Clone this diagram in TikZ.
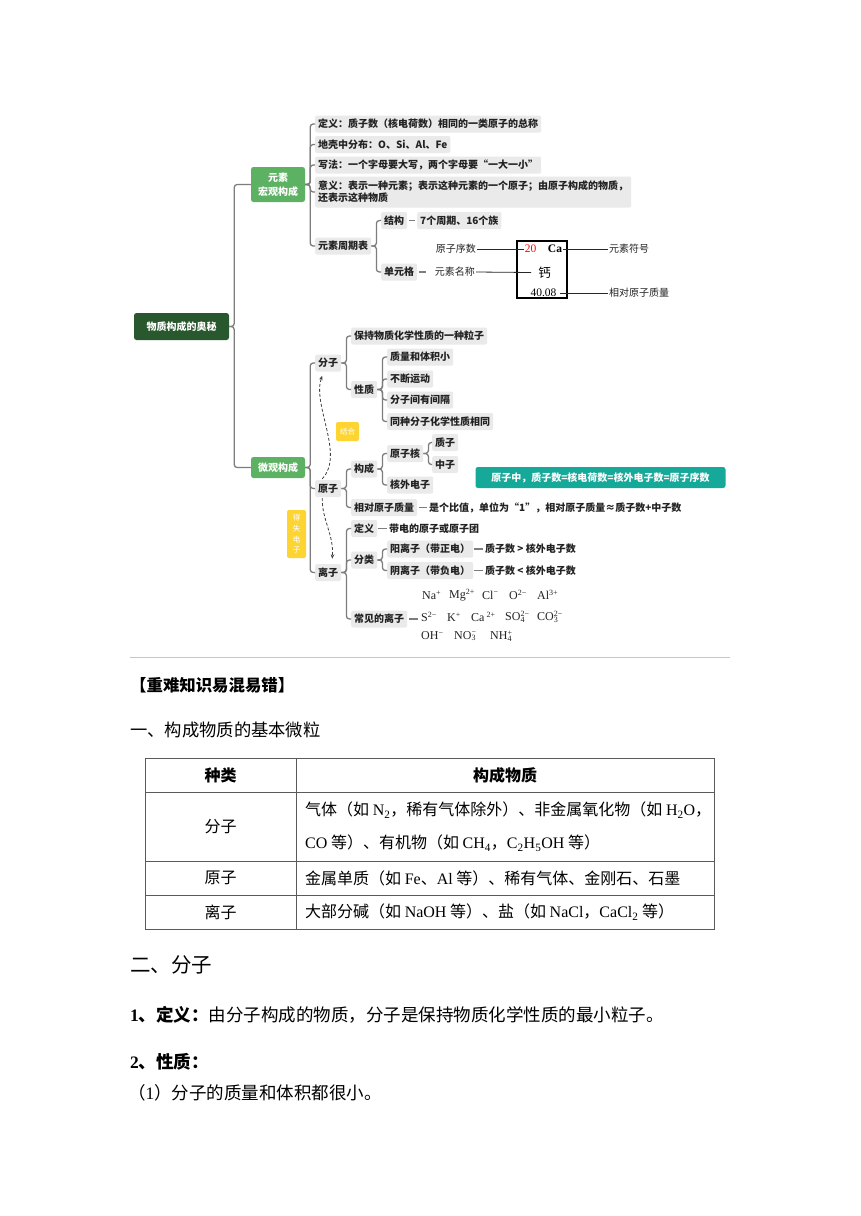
\documentclass[tikz,border=0pt]{standalone}
\usepackage{fontspec}
\setmainfont{Noto Sans CJK SC}
\newfontfamily\tnr{Liberation Serif}
\usetikzlibrary{arrows.meta}
\definecolor{boxgray}{RGB}{234,234,234}
\definecolor{linegray}{RGB}{125,125,125}
\definecolor{rootgreen}{RGB}{42,88,46}
\definecolor{lgreen}{RGB}{92,177,98}
\definecolor{tealc}{RGB}{22,168,152}
\definecolor{yelc}{RGB}{253,212,50}
\definecolor{txt}{RGB}{34,34,34}
\definecolor{tabline}{RGB}{90,90,90}
\newcommand\mmfont{\fontsize{10}{12}\selectfont}
\begin{document}
\begin{tikzpicture}[x=1pt,y=-1pt,
 mmline/.style={draw=linegray,line width=1.3pt,rounded corners=3pt},
 gbox/.style={fill=boxgray,rounded corners=2pt,inner xsep=3pt,inner ysep=0pt,minimum height=17pt,font=\mmfont\bfseries,text=txt,anchor=west},
 plain/.style={inner sep=1pt,font=\mmfont\bfseries,text=txt,anchor=west},
 greenbox/.style={fill=lgreen,rounded corners=2.5pt,text=white,font=\fontsize{10}{14}\selectfont\bfseries,minimum width=54pt,inner sep=2pt,align=center},
 rootbox/.style={fill=rootgreen,rounded corners=2.5pt,text=white,font=\mmfont\bfseries,minimum width=95pt,minimum height=27pt,inner sep=2pt},
 tealbox/.style={fill=tealc,rounded corners=2.5pt,text=white,font=\mmfont\bfseries,minimum width=250pt,minimum height=21pt,inner sep=2pt},
 yelbox/.style={fill=yelc,rounded corners=2pt,text=white,inner sep=1pt,align=center},
 lbl/.style={inner sep=1pt,font=\mmfont,text=txt},
 ionx/.style={anchor=west,inner sep=0pt,font=\tnr\fontsize{12}{14}\selectfont,text=txt},
 thinblk/.style={draw=black!85,line width=0.8pt},
 dcurve/.style={draw=black!75,line width=0.8pt,dash pattern=on 3pt off 2pt,-{Stealth[length=4.5pt,width=3.5pt]}},
 btxt/.style={anchor=west,inner sep=0pt,text=black},
 tcell/.style={inner sep=0pt,text=black,font=\fontsize{16}{20}\selectfont}
]
\fill[white] (0,0) rectangle (860,1216);
\useasboundingbox (0,0) rectangle (860,1216);

% ---------- root ----------
\node[rootbox] (root) at (181.5,326.5) {物质构成的奥秘};
\node[greenbox,minimum height=35pt] (yuansu) at (278,184.5) {元素\\宏观构成};
\node[greenbox,minimum height=21pt] (weiguan) at (278,467.5) {微观构成};
\draw[mmline] (root.east) -- ++(5,0) |- (yuansu.west);
\draw[mmline] (root.east) -- ++(5,0) |- (weiguan.west);

% ---------- element branch ----------
\node[gbox] (e1) at (315,124) {定义：质子数（核电荷数）相同的一类原子的总称};
\node[gbox] (e2) at (315,144.5) {地壳中分布：O、Si、Al、Fe};
\node[gbox] (e3) at (315,165) {写法：一个字母要大写，两个字母要“一大一小”};
\node[gbox,align=left,minimum height=31pt,minimum width=315pt] (e4) at (315,192) {意义：表示一种元素；表示这种元素的一个原子；由原子构成的物质，\\还表示这种物质};
\node[gbox] (e5) at (315,246) {元素周期表};
\foreach \n in {e1,e2,e3,e4,e5}
  \draw[mmline] (yuansu.east) -- ++(5,0) |- (\n.west);

\node[gbox] (pt1) at (381,220.5) {结构};
\node[gbox] (pt1d) at (417,220.5) {7个周期、16个族};
\node[gbox] (pt2) at (381,272) {单元格};
\draw[mmline] (e5.east) -- ++(5,0) |- (pt1.west);
\draw[mmline] (e5.east) -- ++(5,0) |- (pt2.west);
\draw[mmline] ([xshift=2pt]pt1.east) -- ([xshift=-2pt]pt1d.west);

% periodic table cell
\node[draw=black,line width=2.2pt,minimum width=50pt,minimum height=57pt,inner sep=0pt] (cell) at (542,269.5) {};
\node[inner sep=1pt,font=\tnr\fontsize{11.5}{13}\selectfont,text=red] (num) at (530.5,249) {20};
\node[inner sep=1pt,font=\tnr\fontsize{11.5}{13}\selectfont\bfseries,text=black] (sym) at (555,249) {Ca};
\node[inner sep=1pt,font=\fontsize{12.5}{14}\selectfont,text=black] (cname) at (544.5,272.5) {钙};
\node[inner sep=1pt,font=\tnr\fontsize{11.5}{13}\selectfont,text=black] (mass) at (543.5,293) {40.08};
\node[lbl,anchor=east] (lnum) at (477,249) {原子序数};
\node[lbl,anchor=east] (lname) at (476,272) {元素名称};
\node[lbl,anchor=west] (lsym) at (608,249) {元素符号};
\node[lbl,anchor=west] (lmass) at (608,293) {相对原子质量};
\draw[thinblk] (lnum.east) -- (num.west);
\draw[thinblk] (lname.east) -- ([xshift=-6pt]cname.west);
\draw[thinblk] (sym.east) -- (lsym.west);
\draw[thinblk] ([xshift=2pt]mass.east) -- (lmass.west);
\draw[mmline] ([xshift=2pt]pt2.east) -- ([xshift=-8pt]lname.west);

% ---------- micro branch ----------
\node[gbox] (fz) at (315,363) {分子};
\node[gbox] (yz) at (315,488.5) {原子};
\node[gbox] (lz) at (315,572.5) {离子};
\foreach \n in {fz,yz,lz}
  \draw[mmline] (weiguan.east) -- ++(5,0) |- (\n.west);

% molecule
\node[gbox] (fz1) at (351,336) {保持物质化学性质的一种粒子};
\node[gbox] (fz2) at (351,389.5) {性质};
\foreach \n in {fz1,fz2}
  \draw[mmline] (fz.east) -- ++(5,0) |- (\n.west);
\node[gbox] (xz1) at (387,357) {质量和体积小};
\node[gbox] (xz2) at (387,379) {不断运动};
\node[gbox] (xz3) at (387,400) {分子间有间隔};
\node[gbox] (xz4) at (387,421.5) {同种分子化学性质相同};
\foreach \n in {xz1,xz2,xz3,xz4}
  \draw[mmline] (fz2.east) -- ++(5,0) |- (\n.west);

% atom
\node[gbox] (yz1) at (351,469) {构成};
\node[gbox] (yz2) at (351,507.5) {相对原子质量};
\node[plain] (yz2d) at (428,507.5) {是个比值，单位为“1”，相对原子质量≈质子数+中子数};
\foreach \n in {yz1,yz2}
  \draw[mmline] (yz.east) -- ++(5,0) |- (\n.west);
\draw[mmline] ([xshift=2pt]yz2.east) -- ([xshift=-1pt]yz2d.west);
\node[gbox] (gc1) at (387,453.5) {原子核};
\node[gbox] (gc2) at (387,485) {核外电子};
\foreach \n in {gc1,gc2}
  \draw[mmline] (yz1.east) -- ++(5,0) |- (\n.west);
\node[gbox] (hz1) at (432,442.5) {质子};
\node[gbox] (hz2) at (432,464.5) {中子};
\foreach \n in {hz1,hz2}
  \draw[mmline] (gc1.east) -- ++(5,0) |- (\n.west);
\node[tealbox] (note) at (600.5,477.5) {原子中，质子数=核电荷数=核外电子数=原子序数};

% ion
\node[gbox] (lz1) at (351,528.5) {定义};
\node[plain] (lz1d) at (388,528.5) {带电的原子或原子团};
\node[gbox] (lz2) at (351,560) {分类};
\node[gbox] (lz3) at (351,619) {常见的离子};
\foreach \n in {lz1,lz2,lz3}
  \draw[mmline] (lz.east) -- ++(5,0) |- (\n.west);
\draw[mmline] ([xshift=1pt]lz1.east) -- ([xshift=-1pt]lz1d.west);
\node[gbox] (fl1) at (387,549) {阳离子（带正电）};
\node[gbox] (fl2) at (387,570.5) {阴离子（带负电）};
\foreach \n in {fl1,fl2}
  \draw[mmline] (lz2.east) -- ++(5,0) |- (\n.west);
\node[plain] (fl1d) at (484,549) {质子数 > 核外电子数};
\node[plain] (fl2d) at (484,570.5) {质子数 < 核外电子数};
\draw[mmline] ([xshift=1pt]fl1.east) -- ([xshift=-1pt]fl1d.west);
\draw[mmline] ([xshift=1pt]fl2.east) -- ([xshift=-1pt]fl2d.west);

\node[ionx] (i1) at (422,595) {Na\textsuperscript{+}};
\node[ionx] (i2) at (449,595) {Mg\textsuperscript{2+}};
\node[ionx] (i3) at (482,595) {Cl\textsuperscript{−}};
\node[ionx] (i4) at (509,595) {O\textsuperscript{2−}};
\node[ionx] (i5) at (537,595) {Al\textsuperscript{3+}};
\node[ionx] (i6) at (421,617) {S\textsuperscript{2−}};
\node[ionx] (i7) at (447,617) {K\textsuperscript{+}};
\node[ionx] (i8) at (471,617) {Ca\,\textsuperscript{2+}};
\node[ionx] (i9) at (505,617) {SO\rlap{\textsubscript{4}}\textsuperscript{2−}};
\node[ionx] (i10) at (537,617) {CO\rlap{\textsubscript{3}}\textsuperscript{2−}};
\node[ionx] (i11) at (421,636) {OH\textsuperscript{−}};
\node[ionx] (i12) at (454,636) {NO\rlap{\textsubscript{3}}\textsuperscript{−}};
\node[ionx] (i13) at (490,636) {NH\rlap{\textsubscript{4}}\textsuperscript{+}};
\path (lz3.east -| i6.west) coordinate (ionjoin);
\draw[mmline] ([xshift=2pt]lz3.east) -- ([xshift=-3pt]ionjoin);

% yellow tags and dashed relations
\node[yelbox,minimum width=23pt,minimum height=19pt,font=\fontsize{7.5}{9}\selectfont] (jh) at (347.5,431.5) {结合};
\node[yelbox,minimum width=19pt,minimum height=48pt,font=\fontsize{7.5}{10.7}\selectfont] (dsdz) at (296.5,534) {得\\失\\电\\子};
\draw[dcurve] ([shift={(-6,-1)}]yz.north) .. controls (345,455) and (312,405) .. ([shift={(-6,4)}]fz.south);
\draw[dcurve] ([shift={(-6,1)}]yz.south) .. controls (322,520) and (334,535) .. ([shift={(4,-5)}]lz.north);

% ---------- lower text ----------
\draw[draw=gray!45,line width=1pt] (130,657) -- (730,657);
\node[btxt,font=\fontsize{16.4}{20}\selectfont\bfseries] (h0) at (130,685) {【重难知识易混易错】};
\node[btxt,font=\fontsize{17.3}{21}\selectfont] (h1) at (130,730) {一、构成物质的基本微粒};

% table
\draw[draw=tabline,line width=0.9pt] (145,758) rectangle (714,929);
\draw[draw=tabline,line width=0.9pt] (145,792) -- (714,792);
\draw[draw=tabline,line width=0.9pt] (145,861) -- (714,861);
\draw[draw=tabline,line width=0.9pt] (145,895) -- (714,895);
\draw[draw=tabline,line width=0.9pt] (296,758) -- (296,929);
\node[tcell,font=\fontsize{16}{20}\selectfont\bfseries] (th1) at (220.5,775) {种类};
\node[tcell,font=\fontsize{16}{20}\selectfont\bfseries] (th2) at (505,775) {构成物质};
\node[tcell] (r1a) at (220.5,826.5) {分子};
\node[tcell,anchor=west] (r1b) at (305,810) {气体（如 {\tnr N\textsubscript{2}}，稀有气体除外）、非金属氧化物（如 {\tnr H\textsubscript{2}O}，};
\node[tcell,anchor=west] (r1c) at (305,843) {{\tnr CO} 等）、有机物（如 {\tnr CH\textsubscript{4}}，{\tnr C\textsubscript{2}H\textsubscript{5}OH} 等）};
\node[tcell] (r2a) at (220.5,878) {原子};
\node[tcell,anchor=west] (r2b) at (305,878) {金属单质（如 {\tnr Fe}、{\tnr Al} 等）、稀有气体、金刚石、石墨};
\node[tcell] (r3a) at (220.5,912) {离子};
\node[tcell,anchor=west] (r3b) at (305,912) {大部分碱（如 {\tnr NaOH} 等）、盐（如 {\tnr NaCl}，{\tnr CaCl\textsubscript{2}} 等）};

\node[btxt,font=\fontsize{20.5}{24}\selectfont] (h2) at (130,965) {二、分子};
\node[btxt,font=\fontsize{17.5}{21}\selectfont] (p1) at (130,1015) {\textbf{{\tnr 1}、定义：}由分子构成的物质，分子是保持物质化学性质的最小粒子。};
\node[btxt,font=\fontsize{17.5}{21}\selectfont] (p2) at (130,1062) {\textbf{{\tnr 2}、性质：}};
\node[btxt,font=\fontsize{17.5}{21}\selectfont] (p3) at (128,1093) {（{\tnr 1}）分子的质量和体积都很小。};
\end{tikzpicture}
\end{document}
